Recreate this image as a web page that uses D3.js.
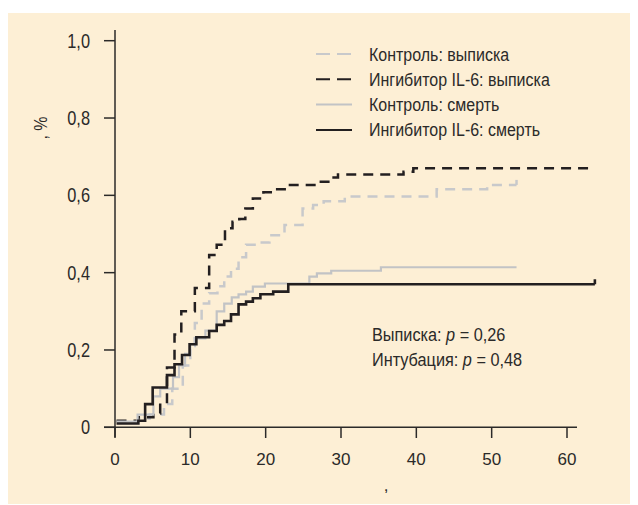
<!DOCTYPE html>
<meta charset="utf-8">
<head>
  <title>Kaplan-Meier: IL-6</title>
  <script src="https://cdn.jsdelivr.net/npm/d3@7"></script>
  <style>
    body { margin: 0; background: #fff; }
    .narrow { font-family: "Liberation Sans", Arial, sans-serif; fill: #2b2a29; }
    .reg { font-family: "Liberation Sans", Arial, sans-serif; fill: #2b2a29; }
  </style>
</head>
<body>
<div id="chart"></div>
<script>
// step points [day, share]
const ctrlDischarge = [[0.2,0.015],[3.1,0.023],[4.6,0.033],[6.5,0.06],[7.6,0.10],[9.0,0.16],[10.0,0.21],[10.6,0.27],[11.5,0.32],[12.5,0.347],[13.6,0.365],[14.5,0.39],[15.4,0.41],[16.4,0.44],[17.4,0.472],[19.0,0.478],[20.5,0.497],[22.5,0.523],[24.9,0.566],[26.3,0.575],[27.7,0.585],[30.5,0.597],[42.7,0.616],[49.4,0.627]];
const il6Discharge = [[0.2,0.017],[3.1,0.026],[5.1,0.036],[6.0,0.062],[6.9,0.155],[7.9,0.24],[8.8,0.30],[10.6,0.36],[12.5,0.446],[13.5,0.472],[14.6,0.515],[15.6,0.532],[16.5,0.539],[17.3,0.566],[18.3,0.592],[19.7,0.608],[21.2,0.616],[23.0,0.627],[26.8,0.635],[28.8,0.646],[29.6,0.654],[38.3,0.661],[39.6,0.670]];
const ctrlDeath = [[0.2,0.015],[3.0,0.033],[5.1,0.08],[6.0,0.10],[7.7,0.13],[8.5,0.16],[9.3,0.19],[10.0,0.215],[10.6,0.23],[12.0,0.25],[13.5,0.30],[14.5,0.32],[15.5,0.336],[16.4,0.344],[17.4,0.351],[18.3,0.364],[19.9,0.372],[25.8,0.39],[26.8,0.398],[28.7,0.405],[35.3,0.414]];
const il6Death = [[0.2,0.010],[3.1,0.017],[4.0,0.060],[5.0,0.103],[6.9,0.135],[7.9,0.163],[8.9,0.187],[9.9,0.215],[10.8,0.233],[12.5,0.249],[13.5,0.265],[14.5,0.275],[15.4,0.292],[16.4,0.318],[17.4,0.325],[18.3,0.334],[19.3,0.344],[21.0,0.351],[23.0,0.370]];
const seriesEnd = [53.3, 63.7, 53.3, 63.7];
const seriesNames = ["Контроль: выписка", "Ингибитор IL-6: выписка", "Контроль: смерть", "Ингибитор IL-6: смерть"];
const xTicks = [0, 10, 20, 30, 40, 50, 60];
const yTicks = [0, 0.2, 0.4, 0.6, 0.8, 1.0];
const yTickLabels = ["0", "0,2", "0,4", "0,6", "0,8", "1,0"];
const noteLines = [["Выписка: ", "p", " = 0,26"], ["Интубация: ", "p", " = 0,48"]];

const W = 638, H = 505;
const svg = d3.select("#chart").append("svg").attr("width", W).attr("height", H);

svg.append("rect").attr("x", 8).attr("y", 13).attr("width", 622).attr("height", 491).attr("fill", "#fdefd5");

const x = d3.scaleLinear().domain([0, 60]).range([115, 567]);
const y = d3.scaleLinear().domain([0, 1]).range([427.3, 40.7]);

const ink = "#2b2a29";

// condensed text: no narrow face installed, so squeeze horizontally
function narrowText(px, py, str, size, sx, anchor) {
  const g = svg.append("g").attr("transform", `translate(${px},${py})`);
  return g.append("text").attr("class", "narrow")
    .attr("transform", `scale(${sx},1)`)
    .attr("text-anchor", anchor || "start")
    .style("font-size", size + "px").text(str);
}

// axes
svg.append("line").attr("x1", x(0)).attr("x2", x(0)).attr("y1", 30).attr("y2", 437)
  .attr("stroke", ink).attr("stroke-width", 1.5);
svg.append("line").attr("x1", 104).attr("x2", 577).attr("y1", y(0)).attr("y2", y(0))
  .attr("stroke", ink).attr("stroke-width", 1.5);

svg.selectAll(".yt").data(yTicks).enter().append("line")
  .attr("x1", 104).attr("x2", x(0)).attr("y1", d => y(d)).attr("y2", d => y(d))
  .attr("stroke", ink).attr("stroke-width", 1.5);
yTicks.forEach((d, i) => narrowText(90, y(d) + 7, yTickLabels[i], 19.5, 0.84, "end"));

svg.selectAll(".xt").data(xTicks).enter().append("line")
  .attr("x1", d => x(d)).attr("x2", d => x(d)).attr("y1", y(0)).attr("y2", 438)
  .attr("stroke", ink).attr("stroke-width", 1.5);
svg.selectAll(".xl").data(xTicks).enter().append("text")
  .attr("class", "reg").attr("x", d => x(d)).attr("y", 465)
  .attr("text-anchor", "middle").style("font-size", "17px")
  .text(d => d);

// axis titles (only punctuation survived)
svg.append("text").attr("class", "narrow")
  .attr("transform", "translate(47,128) rotate(-90) scale(0.84,1)")
  .attr("text-anchor", "middle").style("font-size", "19px").text(", %");
svg.append("text").attr("class", "reg").attr("x", 386).attr("y", 491)
  .attr("text-anchor", "middle").style("font-size", "17px").text(",");

// curves
const styles = [
  { color: "#c8c9cb", width: 2.5, dash: "10,7" },
  { color: "#231f20", width: 2.5, dash: "10,7" },
  { color: "#c2c3c5", width: 2.2, dash: null },
  { color: "#231f20", width: 2.6, dash: null }
];
const allSeries = [ctrlDischarge, il6Discharge, ctrlDeath, il6Death];
const line = d3.line().x(d => x(d[0])).y(d => y(d[1])).curve(d3.curveStepAfter);

allSeries.forEach((s, i) => {
  const pts = s.concat([[seriesEnd[i], s[s.length - 1][1]]]);
  const p = svg.append("path").attr("d", line(pts)).attr("fill", "none")
    .attr("stroke", styles[i].color).attr("stroke-width", styles[i].width);
  if (styles[i].dash) p.attr("stroke-dasharray", styles[i].dash);
});
// censor marks at the end of two curves
[0, 3].forEach(i => {
  const s = allSeries[i], v = s[s.length - 1][1];
  svg.append("line").attr("x1", x(seriesEnd[i])).attr("x2", x(seriesEnd[i]))
    .attr("y1", y(v)).attr("y2", y(v) - 5)
    .attr("stroke", styles[i].color).attr("stroke-width", styles[i].width);
});

// legend
seriesNames.forEach((name, i) => {
  const yy = 54 + i * 25.3;
  const l = svg.append("line").attr("x1", 316).attr("x2", 352).attr("y1", yy).attr("y2", yy)
    .attr("stroke", styles[i].color).attr("stroke-width", 2);
  if (styles[i].dash) l.attr("stroke-dasharray", "14,7");
  narrowText(369, yy + 6.5, name, 18.5, 0.865);
});

// note
noteLines.forEach((parts, i) => {
  const t = narrowText(372, 340.7 + i * 25, "", 18.5, 0.88);
  parts.forEach((p, j) => {
    t.append("tspan").style("font-style", j === 1 ? "italic" : "normal").text(p);
  });
});
</script>
</body>
